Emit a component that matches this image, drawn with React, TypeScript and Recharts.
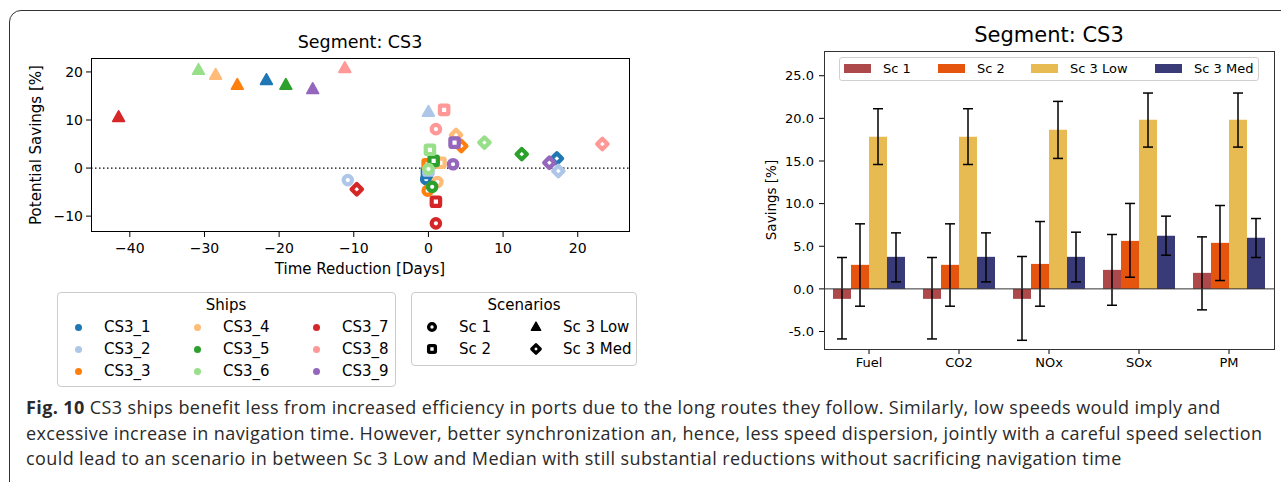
import { ScatterChart, Scatter, XAxis, YAxis, ReferenceLine, BarChart, Bar, ErrorBar } from "recharts";

// ---- scatter: time reduction vs potential savings, one point per ship & scenario ----
const SHIPS = ["CS3_1", "CS3_2", "CS3_3", "CS3_4", "CS3_5", "CS3_6", "CS3_7", "CS3_8", "CS3_9"];
const SHIP_COLORS = ["#1f77b4", "#aec7e8", "#ff7f0e", "#ffbb78", "#2ca02c", "#98df8a", "#d62728", "#ff9896", "#9467bd"];
const SCENARIOS = ["Sc 1", "Sc 2", "Sc 3 Low", "Sc 3 Med"];

const SC1_X = [-0.3, -10.8, -0.1, 1.2, 0.5, 0.0, 1.0, 1.0, 3.3];
const SC1_Y = [-2.3, -2.5, -4.7, -2.9, -3.9, -0.2, -11.5, 8.1, 0.8];
const SC2_X = [-0.2, 0.0, -0.1, 1.6, 0.7, 0.2, 1.0, 2.1, 3.5];
const SC2_Y = [-1.0, -0.5, 0.8, 1.1, 1.5, 3.8, -7.0, 12.1, 5.3];
const LOW_X = [-21.7, 0.0, -25.6, -28.5, -19.1, -30.8, -41.5, -11.2, -15.5];
const LOW_Y = [18.3, 11.7, 17.3, 19.4, 17.3, 20.4, 10.6, 20.8, 16.4];
const MED_X = [17.2, 17.4, 4.4, 3.7, 12.5, 7.5, -9.6, 23.3, 16.2];
const MED_Y = [2.0, -0.6, 4.6, 6.9, 2.9, 5.3, -4.4, 5.0, 1.1];

const X_TICKS = [-40, -30, -20, -10, 0, 10, 20];
const Y_TICKS = [-10, 0, 10, 20];

// ---- bars: savings per pollutant ----
const CATEGORIES = ["Fuel", "CO2", "NOx", "SOx", "PM"];
const SC1 = [-1.17, -1.17, -1.17, 2.23, 1.88];
const SC1_LO = [-5.87, -5.87, -6.03, -1.92, -2.46];
const SC1_HI = [3.68, 3.68, 3.8, 6.38, 6.1];
const SC2 = [2.82, 2.82, 2.93, 5.63, 5.4];
const SC2_LO = [-2.03, -2.03, -2.03, 1.37, 0.98];
const SC2_HI = [7.63, 7.63, 7.9, 10.02, 9.78];
const LOW = [17.84, 17.84, 18.66, 19.84, 19.84];
const LOW_LO = [14.59, 14.59, 15.3, 16.63, 16.63];
const LOW_HI = [21.13, 21.13, 21.99, 22.97, 22.97];
const MED = [3.76, 3.76, 3.76, 6.22, 5.99];
const MED_LO = [0.82, 0.82, 0.82, 3.95, 3.68];
const MED_HI = [6.57, 6.57, 6.65, 8.53, 8.25];
const BAR_TICKS = [-5, 0, 5, 10, 15, 20, 25];
const BAR_COLORS = ["#ad494a", "#e6550d", "#e7ba52", "#393b79"];

const XS = [SC1_X, SC2_X, LOW_X, MED_X];
const YS = [SC1_Y, SC2_Y, LOW_Y, MED_Y];

const shipData = SHIPS.map((_, i) => [0, 1, 2, 3].map(k => ({ x: XS[k][i], y: YS[k][i], k })));

const err = (v: number[], lo: number[], hi: number[], i: number) => [v[i] - lo[i], hi[i] - v[i]];
const barData = CATEGORIES.map((name, i) => ({
  name,
  sc1: SC1[i], sc1Err: err(SC1, SC1_LO, SC1_HI, i),
  sc2: SC2[i], sc2Err: err(SC2, SC2_LO, SC2_HI, i),
  low: LOW[i], lowErr: err(LOW, LOW_LO, LOW_HI, i),
  med: MED[i], medErr: err(MED, MED_LO, MED_HI, i),
}));

const FONT = "'DejaVu Sans', sans-serif";

function Marker({ cx, cy, kind, color, s = 1 }: { cx: number; cy: number; kind: number; color: string; s?: number }) {
  if (kind === 0) return <circle cx={cx} cy={cy} r={4.2 * s} fill="#fff" stroke={color} strokeWidth={4.2 * s} />;
  if (kind === 1) {
    const h = 4.2 * s;
    return <rect x={cx - h} y={cy - h} width={2 * h} height={2 * h} rx={1} fill="#fff" stroke={color} strokeWidth={4.2 * s} strokeLinejoin="round" />;
  }
  if (kind === 2) {
    const pts = `${cx},${cy - 6.2 * s} ${cx + 5.8 * s},${cy + 4.2 * s} ${cx - 5.8 * s},${cy + 4.2 * s}`;
    return <polygon points={pts} fill={color} stroke={color} strokeWidth={1.8 * s} strokeLinejoin="round" />;
  }
  const d = 5.2 * s;
  const pts = `${cx},${cy - d} ${cx + d},${cy} ${cx},${cy + d} ${cx - d},${cy}`;
  return <polygon points={pts} fill="#fff" stroke={color} strokeWidth={4.2 * s} strokeLinejoin="round" />;
}

const abs = (left: number, top: number, extra: React.CSSProperties = {}): React.CSSProperties => ({
  position: "absolute", left, top, ...extra,
});

function Centered({ x, y, size, rotate, children }: { x: number; y: number; size: number; rotate?: boolean; children: React.ReactNode }) {
  return (
    <div style={{
      position: "absolute", left: x, top: y, fontSize: size, lineHeight: 1, whiteSpace: "nowrap",
      transform: `translate(-50%, -50%)${rotate ? " rotate(-90deg)" : ""}`, color: "#000",
    }}>{children}</div>
  );
}

export default function App() {
  const tickLeft = { fontSize: 14, fill: "#000" };
  const tickRight = { fontSize: 13, fill: "#000" };
  return (
    <div style={{ position: "absolute", left: 0, top: 0, width: 1281, height: 482, overflow: "hidden", background: "#fff", fontFamily: FONT }}>
      {/* outer figure frame */}
      <div style={abs(9, 10, { width: 1320, height: 520, border: "1.5px solid #333", borderRadius: 12 })} />

      {/* left: scatter */}
      <Centered x={360} y={43} size={17.5}>Segment: CS3</Centered>
      <div style={abs(0, 0)}>
        <ScatterChart width={650} height={290} margin={{ top: 58, right: 20, bottom: 28, left: 46 }}>
          <XAxis type="number" dataKey="x" domain={[-45.2, 27]} ticks={X_TICKS} allowDataOverflow
            tick={tickLeft} tickLine={{ stroke: "#000" }} axisLine={false} tickSize={5} tickMargin={6} height={30}
            tickFormatter={(v: number) => (v < 0 ? `\u2212${-v}` : `${v}`)} />
          <YAxis type="number" dataKey="y" domain={[-13.3, 22.9]} ticks={Y_TICKS} allowDataOverflow
            tick={tickLeft} tickLine={{ stroke: "#000" }} axisLine={false} tickSize={5} tickMargin={3} width={45}
            tickFormatter={(v: number) => (v < 0 ? `\u2212${-v}` : `${v}`)} />
          <ReferenceLine y={0} stroke="#000" strokeDasharray="1.5 2.5" strokeWidth={1.2} />
          {shipData.map((data, i) => (
            <Scatter key={SHIPS[i]} name={SHIPS[i]} data={data} isAnimationActive={false}
              shape={(p: any) => <Marker cx={p.cx} cy={p.cy} kind={p.payload.k} color={SHIP_COLORS[i]} />} />
          ))}
        </ScatterChart>
      </div>
      <div style={abs(91, 58, { width: 539, height: 174, border: "1px solid #000", boxSizing: "border-box" })} />
      <Centered x={36} y={145} size={15} rotate>Potential Savings [%]</Centered>
      <Centered x={360} y={269} size={15}>Time Reduction [Days]</Centered>

      {/* ships legend */}
      <div style={abs(57, 292, { width: 339, height: 95, border: "1px solid #ccc", borderRadius: 4, boxSizing: "border-box" })} />
      <Centered x={226} y={305} size={15}>Ships</Centered>
      {SHIPS.map((s, i) => {
        const col = Math.floor(i / 3), row = i % 3;
        const y = 327 + row * 22;
        return (
          <div key={s}>
            <div style={abs(78 + col * 119 - 3.5, y - 3.5, { width: 7, height: 7, borderRadius: "50%", background: SHIP_COLORS[i] })} />
            <div style={abs(104 + col * 119, y - 8, { fontSize: 15, lineHeight: "16px" })}>{s}</div>
          </div>
        );
      })}

      {/* scenarios legend */}
      <div style={abs(411, 292, { width: 226, height: 74, border: "1px solid #ccc", borderRadius: 4, boxSizing: "border-box" })} />
      <Centered x={524} y={305} size={15}>Scenarios</Centered>
      {SCENARIOS.map((s, k) => {
        const col = Math.floor(k / 2), row = k % 2;
        const y = 327 + row * 22;
        const mx = 432 + col * 104;
        return (
          <div key={s}>
            <svg style={abs(mx - 8, y - 8)} width={16} height={16}>
              <Marker cx={8} cy={8} kind={k} color="#000" s={0.8} />
            </svg>
            <div style={abs(459 + col * 104, y - 8, { fontSize: 15, lineHeight: "16px" })}>{s}</div>
          </div>
        );
      })}

      {/* right: bars */}
      <Centered x={1049} y={35} size={21}>Segment: CS3</Centered>
      <div style={abs(760, 0)}>
        <BarChart width={521} height={380} data={barData} margin={{ top: 51, right: 7, bottom: 7, left: 14 }}
          barCategoryGap="10%" barGap={0}>
          <XAxis dataKey="name" tick={tickRight} tickLine={{ stroke: "#000" }} axisLine={false} tickSize={5} tickMargin={4} height={24} />
          <YAxis domain={[-7.05, 27.9]} ticks={BAR_TICKS} allowDataOverflow tick={tickRight} tickLine={{ stroke: "#000" }}
            axisLine={false} tickSize={5} tickMargin={5} width={50} tickFormatter={(v: number) => v.toFixed(1)} />
          <Bar dataKey="sc1" fill={BAR_COLORS[0]} isAnimationActive={false}>
            <ErrorBar dataKey="sc1Err" width={5} strokeWidth={1.5} stroke="#000" />
          </Bar>
          <Bar dataKey="sc2" fill={BAR_COLORS[1]} isAnimationActive={false}>
            <ErrorBar dataKey="sc2Err" width={5} strokeWidth={1.5} stroke="#000" />
          </Bar>
          <Bar dataKey="low" fill={BAR_COLORS[2]} isAnimationActive={false}>
            <ErrorBar dataKey="lowErr" width={5} strokeWidth={1.5} stroke="#000" />
          </Bar>
          <Bar dataKey="med" fill={BAR_COLORS[3]} isAnimationActive={false}>
            <ErrorBar dataKey="medErr" width={5} strokeWidth={1.5} stroke="#000" />
          </Bar>
          <ReferenceLine y={0} stroke="#333" strokeWidth={1} />
        </BarChart>
      </div>
      <div style={abs(824, 51, { width: 451, height: 299, border: "1px solid #333", boxSizing: "border-box" })} />
      <Centered x={772} y={200} size={13.5} rotate>Savings [%]</Centered>

      {/* bar legend */}
      <div style={abs(839, 57, { width: 420, height: 24, border: "1px solid #d0d0d0", borderRadius: 3, background: "#fff", boxSizing: "border-box" })} />
      {SCENARIOS.map((s, k) => {
        const px = [844, 938, 1031, 1155][k];
        return (
          <div key={s}>
            <div style={abs(px, 64, { width: 27, height: 9, background: BAR_COLORS[k] })} />
            <div style={abs(px + 39, 61, { fontSize: 13, lineHeight: "15px" })}>{s}</div>
          </div>
        );
      })}

      {/* caption */}
      <div style={abs(26, 395, { fontFamily: "'Open Sans', sans-serif", fontSize: 18, letterSpacing: 0.4, lineHeight: "25.5px", color: "#2a2a2a", whiteSpace: "nowrap" })}>
        <b>Fig. 10</b> CS3 ships benefit less from increased efficiency in ports due to the long routes they follow. Similarly, low speeds would imply and<br />
        excessive increase in navigation time. However, better synchronization an, hence, less speed dispersion, jointly with a careful speed selection<br />
        could lead to an scenario in between Sc 3 Low and Median with still substantial reductions without sacrificing navigation time
      </div>
    </div>
  );
}
